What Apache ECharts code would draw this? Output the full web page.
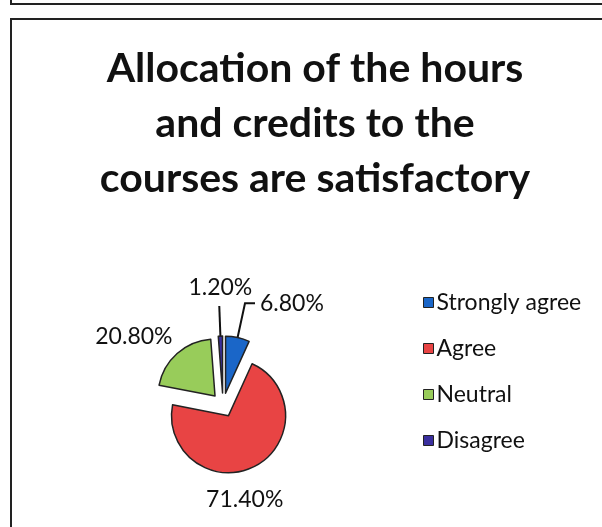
<!DOCTYPE html>
<html>
<head>
<meta charset="utf-8">
<script src="https://cdn.jsdelivr.net/npm/echarts@6/dist/echarts.min.js"></script>
<style>
  html, body { margin: 0; padding: 0; background: #fff; }
  #chart { width: 602px; height: 527px; }
</style>
</head>
<body>
<div id="chart"></div>
<script>
var categories = ['Strongly agree', 'Agree', 'Neutral', 'Disagree'];
var values = [6.8, 71.4, 20.8, 1.2];
var colors = ['#1a66c8', '#e84444', '#98cc5a', '#3a2f9e'];
var titleText = 'Allocation of the hours\nand credits to the\ncourses are satisfactory';

var myChart = echarts.init(document.getElementById('chart'));

// label nudges so they sit where the scan puts them
var labelShift = [
    { dx: 0, dy: 0 },
    { dx: -75, dy: 11 },
    { dx: 27, dy: 2 },
    { dx: 38, dy: -18 }
];
// leader lines: only the two small slices show one
var lineOpts = [
    { show: true, length: 35, length2: 10 },
    { show: false },
    { show: false },
    { show: true, length: 30, length2: 0 }
];

var pieData = categories.map(function (name, i) {
    return {
        name: name,
        value: values[i],
        selected: true,
        itemStyle: { color: colors[i] },
        labelLine: lineOpts[i]
    };
});

const option = {
    backgroundColor: '#fff',
    textStyle: { fontFamily: 'Lato' },
    graphic: [
        {
            type: 'polyline',
            shape: { points: [[11, 0], [11, 4], [602, 4]] },
            style: { stroke: '#222', lineWidth: 2, fill: null }
        },
        {
            type: 'polyline',
            shape: { points: [[602, 19], [11, 19], [11, 527]] },
            style: { stroke: '#222', lineWidth: 2, fill: null }
        }
    ],
    title: {
        text: titleText,
        left: 310,
        top: 36,
        textAlign: 'center',
        textStyle: {
            fontFamily: 'Lato',
            fontWeight: 'bold',
            fontSize: 41,
            lineHeight: 55,
            color: '#111'
        }
    },
    legend: {
        orient: 'vertical',
        left: 418,
        top: 286,
        itemWidth: 10,
        itemHeight: 10,
        itemGap: 23,
        icon: 'rect',
        itemStyle: { borderColor: '#222', borderWidth: 1 },
        textStyle: { fontFamily: 'Lato', fontSize: 23, color: '#111', padding: [0, 0, 0, -2] },
        data: categories
    },
    series: [
        {
            type: 'pie',
            center: [223, 405],
            radius: 57,
            startAngle: 90,
            clockwise: true,
            selectedMode: 'multiple',
            selectedOffset: 12,
            animation: false,
            itemStyle: { borderColor: '#222', borderWidth: 1.5 },
            label: {
                position: 'outside',
                formatter: function (p) { return p.value.toFixed(2) + '%'; },
                fontFamily: 'Lato',
                fontSize: 23,
                color: '#111'
            },
            labelLine: {
                show: true,
                length: 25,
                length2: 10,
                lineStyle: { color: '#111', width: 2 }
            },
            labelLayout: function (params) {
                return labelShift[params.dataIndex];
            },
            emphasis: { disabled: true },
            data: pieData
        }
    ]
};

myChart.setOption(option);
</script>
</body>
</html>
